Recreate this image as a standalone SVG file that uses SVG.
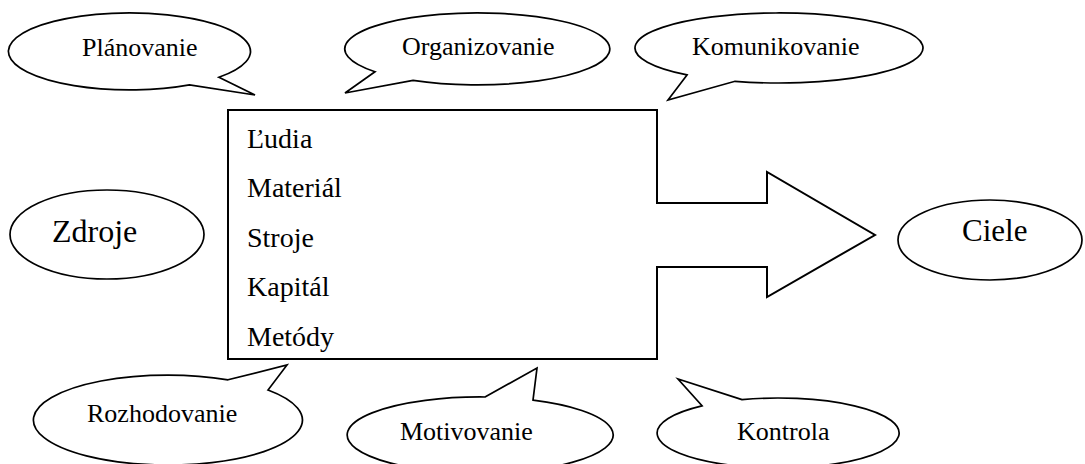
<svg xmlns="http://www.w3.org/2000/svg" width="1085" height="464" viewBox="0 0 1085 464">
<style>
  .shape { fill: #ffffff; stroke: #000000; stroke-width: 1.7; stroke-linejoin: miter; }
  .box { fill: #ffffff; stroke: #000000; stroke-width: 2; }
  text { font-family: "Liberation Serif", "Times New Roman", serif; fill: #000000; }
  .c { font-size: 26px; }
  .b { font-size: 28px; }
  .big { font-size: 32px; }
</style>
<rect x="0" y="0" width="1085" height="464" fill="#ffffff"/>
<g id="connectors">
  <path id="resource-arrow" class="box" d="M228,110 H657 V203 H767 V172 L875,235 L767,297 V267 H657 V359 H228 Z"/>
</g>
<g id="resources-list">
  <text class="b" x="247" y="148">Ľudia</text>
  <text class="b" x="247" y="197">Materiál</text>
  <text class="b" x="247" y="247">Stroje</text>
  <text class="b" x="247" y="296">Kapitál</text>
  <text class="b" x="247" y="346">Metódy</text>
</g>
<g id="zdroje">
  <ellipse class="shape" cx="107" cy="234.5" rx="97" ry="44.5"/>
  <text class="big" x="52" y="242">Zdroje</text>
</g>
<g id="ciele">
  <ellipse class="shape" cx="990" cy="240" rx="92" ry="40"/>
  <text class="big" x="962" y="241" style="font-size:31px">Ciele</text>
</g>
<g id="planovanie">
  <path class="shape" d="M218.9,77.3 L255,95 L189.5,84.8 A121,38.5 0 1 1 218.9,77.3 Z"/>
  <text class="c" x="82" y="56">Plánovanie</text>
</g>
<g id="organizovanie">
  <path class="shape" d="M375,71.8 L345,93 L413,80.4 A132.5,36 0 1 0 375,71.8 Z"/>
  <text class="c" x="402" y="55">Organizovanie</text>
</g>
<g id="komunikovanie">
  <path class="shape" d="M687,74.9 L668,100 L735,81.3 A144,35 0 1 0 687,74.9 Z"/>
  <text class="c" x="692" y="55">Komunikovanie</text>
</g>
<g id="rozhodovanie">
  <path class="shape" d="M228,379.8 L287,365 L268,390 A134.5,45 0 1 1 228,379.8 Z"/>
  <text class="c" x="87" y="422">Rozhodovanie</text>
</g>
<g id="motivovanie">
  <path class="shape" d="M485,397 L537,368 L533,400.1 A133,38 0 1 1 485,397 Z"/>
  <text class="c" x="400" y="440">Motivovanie</text>
</g>
<g id="kontrola">
  <path class="shape" d="M742,399.6 L678,379 L702,405.8 A121,35 0 1 0 742,399.6 Z"/>
  <text class="c" x="737" y="440">Kontrola</text>
</g>
</svg>
